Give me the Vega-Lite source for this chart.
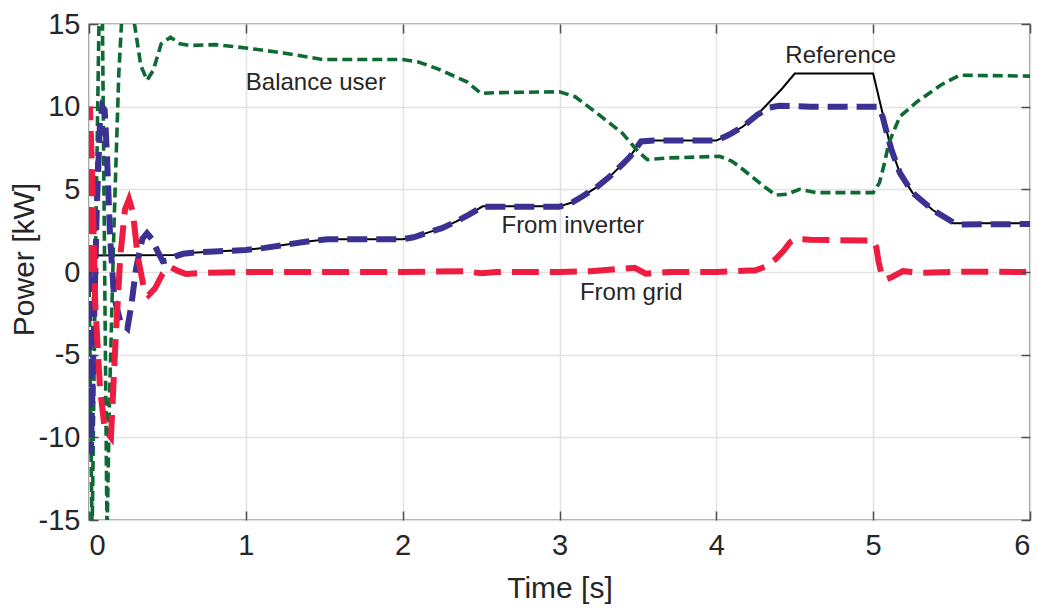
{
  "$schema": "https://vega.github.io/schema/vega-lite/v6.json",
  "width": 941,
  "height": 496,
  "autosize": {"type": "none"},
  "padding": {"left": 89, "top": 24, "right": 8, "bottom": 88},
  "background": "white",
  "config": {
    "font": "Liberation Sans",
    "view": {"stroke": "#4f4f4f", "strokeWidth": 1.4},
    "axis": {
      "domain": false,
      "tickColor": "#4f4f4f",
      "tickWidth": 1.5,
      "tickSize": -9,
      "gridColor": "#e2e2e2",
      "gridWidth": 1.5,
      "labelFont": "Liberation Sans",
      "labelFontSize": 29,
      "labelColor": "#262626",
      "labelExpr": "datum.value + ''",
      "titleFont": "Liberation Sans",
      "titleFontSize": 30,
      "titleFontWeight": "normal",
      "titleColor": "#262626"
    }
  },
  "datasets": {
    "reference": [
      {"t": 0, "P": 1.0}, {"t": 0.55, "P": 1.03}, {"t": 0.66, "P": 1.17}, {"t": 0.8, "P": 1.24},
      {"t": 1.0, "P": 1.33}, {"t": 1.12, "P": 1.46}, {"t": 1.24, "P": 1.63}, {"t": 1.38, "P": 1.83},
      {"t": 1.52, "P": 1.98}, {"t": 2.0, "P": 1.98}, {"t": 2.07, "P": 2.1}, {"t": 2.15, "P": 2.35},
      {"t": 2.25, "P": 2.65}, {"t": 2.34, "P": 3.05}, {"t": 2.42, "P": 3.45}, {"t": 2.51, "P": 3.97},
      {"t": 3.0, "P": 3.97}, {"t": 3.08, "P": 4.2}, {"t": 3.15, "P": 4.6}, {"t": 3.24, "P": 5.15},
      {"t": 3.32, "P": 5.77}, {"t": 3.4, "P": 6.5}, {"t": 3.45, "P": 6.98}, {"t": 3.52, "P": 7.95},
      {"t": 4.0, "P": 7.95}, {"t": 4.08, "P": 8.3}, {"t": 4.17, "P": 8.8}, {"t": 4.26, "P": 9.5},
      {"t": 4.34, "P": 10.3}, {"t": 4.42, "P": 11.1}, {"t": 4.5, "P": 12.0}, {"t": 5.0, "P": 12.0},
      {"t": 5.04, "P": 10.4}, {"t": 5.11, "P": 7.6}, {"t": 5.17, "P": 6.0}, {"t": 5.25, "P": 4.8},
      {"t": 5.38, "P": 3.75}, {"t": 5.51, "P": 2.95}, {"t": 6.0, "P": 2.95}
    ],
    "inverter": [
      {"t": 0, "P": 0}, {"t": 0.012, "P": -11}, {"t": 0.03, "P": -4}, {"t": 0.05, "P": 4},
      {"t": 0.07, "P": 9}, {"t": 0.085, "P": 10}, {"t": 0.1, "P": 9.8}, {"t": 0.115, "P": 7},
      {"t": 0.135, "P": 2}, {"t": 0.16, "P": -1.5}, {"t": 0.2, "P": -3}, {"t": 0.245, "P": -3.4},
      {"t": 0.27, "P": -2}, {"t": 0.3, "P": 0.2}, {"t": 0.34, "P": 2}, {"t": 0.37, "P": 2.35},
      {"t": 0.4, "P": 2.0}, {"t": 0.44, "P": 1.2}, {"t": 0.47, "P": 0.65}, {"t": 0.5, "P": 0.7},
      {"t": 0.55, "P": 0.95}, {"t": 0.6, "P": 1.1}, {"t": 0.66, "P": 1.17}, {"t": 0.8, "P": 1.24},
      {"t": 1.0, "P": 1.33}, {"t": 1.12, "P": 1.46}, {"t": 1.24, "P": 1.63}, {"t": 1.38, "P": 1.83},
      {"t": 1.52, "P": 1.98}, {"t": 2.0, "P": 1.98}, {"t": 2.07, "P": 2.1}, {"t": 2.15, "P": 2.35},
      {"t": 2.25, "P": 2.65}, {"t": 2.34, "P": 3.05}, {"t": 2.42, "P": 3.45}, {"t": 2.51, "P": 3.95},
      {"t": 3.0, "P": 3.95}, {"t": 3.08, "P": 4.2}, {"t": 3.15, "P": 4.6}, {"t": 3.24, "P": 5.15},
      {"t": 3.32, "P": 5.77}, {"t": 3.4, "P": 6.5}, {"t": 3.45, "P": 6.98}, {"t": 3.52, "P": 7.9},
      {"t": 3.6, "P": 7.95}, {"t": 4.0, "P": 7.95}, {"t": 4.08, "P": 8.3}, {"t": 4.17, "P": 8.8},
      {"t": 4.26, "P": 9.5}, {"t": 4.34, "P": 9.95}, {"t": 4.4, "P": 10.05}, {"t": 4.6, "P": 10.0},
      {"t": 5.03, "P": 10.0}, {"t": 5.06, "P": 9.4}, {"t": 5.09, "P": 8.3}, {"t": 5.12, "P": 7.3},
      {"t": 5.17, "P": 6.0}, {"t": 5.25, "P": 4.8}, {"t": 5.38, "P": 3.75}, {"t": 5.51, "P": 3.0},
      {"t": 5.56, "P": 2.88}, {"t": 6.0, "P": 2.9}
    ],
    "grid": [
      {"t": 0, "P": 0}, {"t": 0.006, "P": 10}, {"t": 0.02, "P": 6}, {"t": 0.04, "P": -2},
      {"t": 0.07, "P": -7}, {"t": 0.1, "P": -9.5}, {"t": 0.14, "P": -10}, {"t": 0.17, "P": -4},
      {"t": 0.2, "P": 1}, {"t": 0.23, "P": 3.8}, {"t": 0.255, "P": 4.4}, {"t": 0.28, "P": 3.6},
      {"t": 0.31, "P": 1}, {"t": 0.35, "P": -1}, {"t": 0.38, "P": -1.4}, {"t": 0.42, "P": -1},
      {"t": 0.47, "P": -0.1}, {"t": 0.52, "P": 0.3}, {"t": 0.57, "P": 0.05}, {"t": 0.62, "P": -0.12},
      {"t": 0.75, "P": -0.05}, {"t": 1.0, "P": 0}, {"t": 2.0, "P": 0}, {"t": 2.4, "P": 0.05},
      {"t": 2.5, "P": -0.08}, {"t": 2.6, "P": 0}, {"t": 3.0, "P": 0}, {"t": 3.2, "P": 0.05},
      {"t": 3.4, "P": 0.2}, {"t": 3.48, "P": 0.25}, {"t": 3.55, "P": -0.1}, {"t": 3.7, "P": 0},
      {"t": 4.0, "P": 0}, {"t": 4.25, "P": 0.1}, {"t": 4.32, "P": 0.35}, {"t": 4.38, "P": 0.8},
      {"t": 4.43, "P": 1.3}, {"t": 4.47, "P": 1.8}, {"t": 4.51, "P": 2.0}, {"t": 4.6, "P": 1.95},
      {"t": 5.0, "P": 1.9}, {"t": 5.02, "P": 1.5}, {"t": 5.035, "P": 0.6}, {"t": 5.055, "P": -0.2},
      {"t": 5.08, "P": -0.45}, {"t": 5.12, "P": -0.3}, {"t": 5.19, "P": 0.05}, {"t": 5.3, "P": -0.05},
      {"t": 5.6, "P": 0.02}, {"t": 6.0, "P": 0}
    ],
    "balance": [
      {"t": 0, "P": 0}, {"t": 0.02, "P": -16}, {"t": 0.04, "P": 0}, {"t": 0.065, "P": 16},
      {"t": 0.085, "P": 16}, {"t": 0.1, "P": 0}, {"t": 0.115, "P": -16}, {"t": 0.13, "P": -8},
      {"t": 0.16, "P": 3}, {"t": 0.19, "P": 12}, {"t": 0.21, "P": 15.5}, {"t": 0.25, "P": 17},
      {"t": 0.29, "P": 15}, {"t": 0.33, "P": 12.5}, {"t": 0.37, "P": 11.6}, {"t": 0.41, "P": 12.2},
      {"t": 0.46, "P": 13.8}, {"t": 0.52, "P": 14.2}, {"t": 0.58, "P": 13.8}, {"t": 0.64, "P": 13.7},
      {"t": 0.81, "P": 13.75}, {"t": 1.0, "P": 13.55}, {"t": 1.24, "P": 13.25}, {"t": 1.49, "P": 12.85},
      {"t": 2.0, "P": 12.85}, {"t": 2.1, "P": 12.7}, {"t": 2.22, "P": 12.3}, {"t": 2.41, "P": 11.5},
      {"t": 2.5, "P": 10.8}, {"t": 2.6, "P": 10.85}, {"t": 3.0, "P": 10.9}, {"t": 3.1, "P": 10.6},
      {"t": 3.24, "P": 9.6}, {"t": 3.4, "P": 8.4}, {"t": 3.5, "P": 7.3}, {"t": 3.56, "P": 6.8},
      {"t": 3.7, "P": 6.9}, {"t": 4.02, "P": 7.0}, {"t": 4.1, "P": 6.7}, {"t": 4.17, "P": 6.2},
      {"t": 4.3, "P": 5.2}, {"t": 4.38, "P": 4.65}, {"t": 4.45, "P": 4.7}, {"t": 4.53, "P": 5.0},
      {"t": 4.64, "P": 4.8}, {"t": 5.0, "P": 4.8}, {"t": 5.04, "P": 5.4}, {"t": 5.07, "P": 6.5},
      {"t": 5.1, "P": 7.8}, {"t": 5.17, "P": 9.4}, {"t": 5.28, "P": 10.3}, {"t": 5.43, "P": 11.3},
      {"t": 5.55, "P": 11.9}, {"t": 6.0, "P": 11.85}
    ],
    "labels": [
      {"t": 1.0, "P": 11.0, "text": "Balance user"},
      {"t": 4.44, "P": 12.62, "text": "Reference"},
      {"t": 2.63, "P": 2.34, "text": "From inverter"},
      {"t": 3.13, "P": -1.69, "text": "From grid"}
    ]
  },
  "layer": [
    {
      "data": {"name": "reference"},
      "mark": {"type": "line", "color": "#000000", "strokeWidth": 2, "clip": true},
      "encoding": {
        "x": {
          "field": "t", "type": "quantitative",
          "scale": {"domain": [0, 6], "nice": false},
          "axis": {"orient": "bottom", "values": [0, 1, 2, 3, 4, 5, 6], "labelPadding": 20,
                   "title": "Time [s]", "titleX": 470.5, "titleY": 77, "titleBaseline": "alphabetic"}
        },
        "y": {
          "field": "P", "type": "quantitative",
          "scale": {"domain": [-15, 15], "nice": false},
          "axis": {"orient": "left", "values": [-15, -10, -5, 0, 5, 10, 15], "labelPadding": 18,
                   "title": "Power [kW]", "titleX": -56, "titleY": 235, "titleBaseline": "alphabetic"}
        }
      }
    },
    {
      "data": {"name": "balance"},
      "mark": {"type": "line", "color": "#0e6a35", "strokeWidth": 3.6, "strokeDash": [10, 5], "clip": true},
      "encoding": {
        "x": {
          "field": "t", "type": "quantitative",
          "axis": {"orient": "top", "values": [0, 1, 2, 3, 4, 5, 6], "labels": false, "grid": false, "title": null, "zindex": 1}
        },
        "y": {
          "field": "P", "type": "quantitative",
          "axis": {"orient": "right", "values": [-15, -10, -5, 0, 5, 10, 15], "labels": false, "grid": false, "title": null, "zindex": 1}
        }
      }
    },
    {
      "data": {"name": "inverter"},
      "mark": {"type": "line", "color": "#3a3193", "strokeWidth": 6, "strokeDash": [20, 9], "clip": true},
      "encoding": {
        "x": {"field": "t", "type": "quantitative", "axis": null},
        "y": {"field": "P", "type": "quantitative", "axis": null}
      }
    },
    {
      "data": {"name": "grid"},
      "mark": {"type": "line", "color": "#ee1c40", "strokeWidth": 6, "strokeDash": [27, 11], "clip": true},
      "encoding": {
        "x": {"field": "t", "type": "quantitative", "axis": null},
        "y": {"field": "P", "type": "quantitative", "axis": null}
      }
    },
    {
      "data": {"name": "labels"},
      "mark": {"type": "text", "align": "left", "baseline": "alphabetic", "fontSize": 24, "color": "#262626", "font": "Liberation Sans"},
      "encoding": {
        "x": {"field": "t", "type": "quantitative", "axis": null},
        "y": {"field": "P", "type": "quantitative", "axis": null},
        "text": {"field": "text"}
      }
    }
  ],
  "resolve": {"axis": {"x": "independent", "y": "independent"}}
}
